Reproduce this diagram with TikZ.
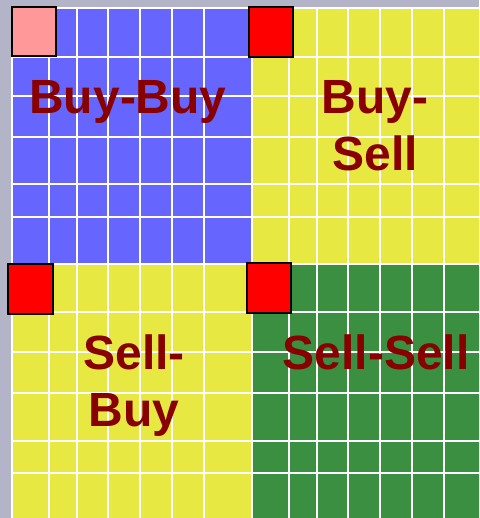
\documentclass[tikz,border=0pt]{standalone}
\usepackage{fontspec}
\setmainfont{Liberation Sans}
\definecolor{bggray}{RGB}{180,180,200}
\definecolor{qblue}{RGB}{102,102,255}
\definecolor{qyellow}{RGB}{232,232,66}
\definecolor{qgreen}{RGB}{58,144,64}
\definecolor{qred}{RGB}{255,0,0}
\definecolor{qpink}{RGB}{255,153,153}
\definecolor{qtext}{RGB}{136,0,0}
\begin{document}
\begin{tikzpicture}[x=1pt,y=-1pt,
  gridline/.style={white,line width=2pt},
  marker/.style={draw=black,line width=2pt},
  label/.style={text=qtext,font=\fontsize{48}{57}\selectfont\bfseries,align=center,inner sep=0pt,anchor=base}]
\useasboundingbox (0,0) rectangle (479,518);
\fill[bggray] (0,0) rectangle (479,518);
% quadrants
\fill[qblue] (12,8) rectangle (252,263);
\fill[qyellow] (252,8) rectangle (479,263);
\fill[qyellow] (12,263) rectangle (252,518);
\fill[qgreen] (252,263) rectangle (479,518);
% grid
\foreach \x in {12,49,77,108,140,172,204,252,289,317,348,380,412,444}
  \draw[gridline] (\x,8) -- (\x,518);
\foreach \y in {8.5,57,96,137,184,217,263.5,312,352,393,441,473}
  \draw[gridline] (12,\y) -- (479,\y);
% markers
\filldraw[marker,fill=qpink] (12,7) rectangle (56,56);
\filldraw[marker,fill=qred] (249,7) rectangle (293,57);
\filldraw[marker,fill=qred] (8,264) rectangle (53,314);
\filldraw[marker,fill=qred] (247,263) rectangle (291,313);
% labels
\node[label] (bb) at (128,114) {Buy-Buy};
\node[label] (bs1) at (375,114) {Buy-};
\node[label] (bs2) at (375,171) {Sell};
\node[label] (sb1) at (134,369) {Sell-};
\node[label] (sb2) at (134,426) {Buy};
\node[label] (ss) at (376,369) {Sell-Sell};
\end{tikzpicture}
\end{document}
